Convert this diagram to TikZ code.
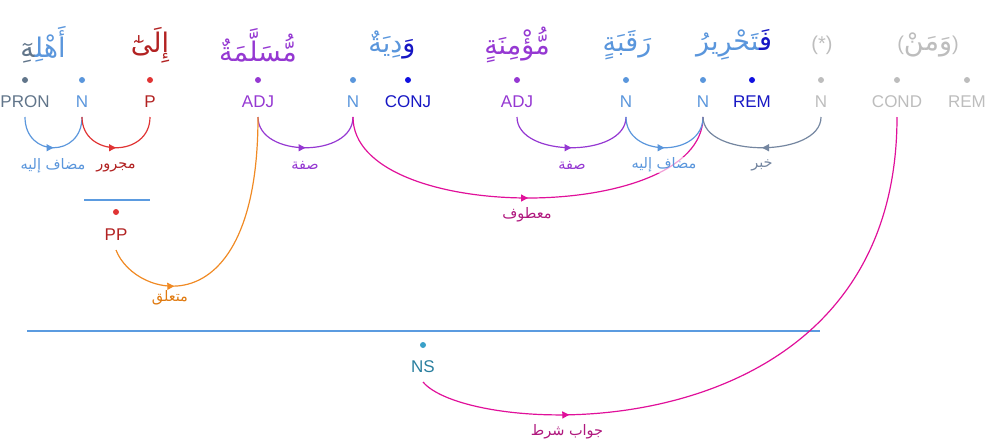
\documentclass[tikz,border=0pt]{standalone}
\usepackage{fontspec}
\setmainfont{Liberation Sans}
\newfontfamily\arabicfont[Script=Arabic]{DejaVu Sans}
\TeXXeTstate=1
\usetikzlibrary{arrows.meta,decorations.markings}
\newcommand{\zj}{\char"200D\relax}
\definecolor{cN}{HTML}{5A96DC}
\definecolor{cPron}{HTML}{61758A}
\definecolor{cPdot}{HTML}{E03434}
\definecolor{cPtext}{HTML}{B22222}
\definecolor{cAdj}{HTML}{9538D2}
\definecolor{cConj}{HTML}{1717C4}
\definecolor{cConjDot}{HTML}{1010E0}
\definecolor{cGray}{HTML}{BDBDBD}
\definecolor{cMag}{HTML}{E0109A}
\definecolor{cMagText}{HTML}{B0187E}
\definecolor{cOrange}{HTML}{F08A24}
\definecolor{cOrangeText}{HTML}{E07A10}
\definecolor{cNSdot}{HTML}{3AA0C8}
\definecolor{cNStext}{HTML}{2A7F9F}
\definecolor{cPhrase}{HTML}{5B9BE0}
\definecolor{cSlate}{HTML}{7486A0}
\tikzset{
  tag/.style={font=\fontsize{17}{20}\selectfont, inner sep=0pt, text height=12.5pt, text depth=0pt, outer ysep=9.5pt, anchor=base},
  wdot/.style={circle, inner sep=0pt, minimum size=6pt, draw=none},
  word/.style={font=\arabicfont\fontsize{27}{32}\selectfont, inner sep=0pt},
  rel/.style={font=\arabicfont\fontsize{14.5}{17}\selectfont, inner sep=1pt, fill=white, fill opacity=0.6, text opacity=1},
  arc/.style={line width=1.2pt, color=#1},
  midarrow/.style={postaction={decorate}, decoration={markings, mark=at position #1 with {\arrow{Triangle[length=7pt,width=7pt]}}}},
  phrase/.style={line width=1.2pt, cPhrase},
}
\begin{document}
\begin{tikzpicture}[x=1pt, y=-1pt]
\useasboundingbox (0,0) rectangle (987,442);
% words (multi-coloured words are written in visual left-to-right order)
\node[word] (w1) at (43,45) {{\color{cPron}\zj هِٓ}{\color{cN}أَهْلِ\zj}};
\node[word, text=cPtext] (w2) at (150,45) {إِلَىٰٓ};
\node[word, text=cAdj] (w3) at (258,45) {مُّسَلَّمَةٌ};
\node[word] (w4) at (392,45) {{\color{cN}دِيَةٌ}{\color{cConj}وَ}};
\node[word, text=cAdj] (w5) at (517,45) {مُّؤْمِنَةٍ};
\node[word, text=cN] (w6) at (627,45) {رَقَبَةٍ};
\node[word] (w7) at (734,45) {{\color{cN}\zj تَحْرِيرُ}{\color{cConj}فَ\zj}};
\node[word, text=cGray, font=\fontsize{20}{24}\selectfont] (w8) at (822,45) {(*)};
\node[word, text=cGray] (w9) at (928,45) {{\fontsize{20}{24}\selectfont\rmfamily(}وَمَنْ{\fontsize{20}{24}\selectfont\rmfamily)}};
% dots
\node[wdot, fill=cPron] (d1) at (25,80) {};
\node[wdot, fill=cN] (d2) at (82,80) {};
\node[wdot, fill=cPdot] (d3) at (150,80) {};
\node[wdot, fill=cAdj] (d4) at (258,80) {};
\node[wdot, fill=cN] (d5) at (353,80) {};
\node[wdot, fill=cConjDot] (d6) at (408,80) {};
\node[wdot, fill=cAdj] (d7) at (517,80) {};
\node[wdot, fill=cN] (d8) at (626,80) {};
\node[wdot, fill=cN] (d9) at (703,80) {};
\node[wdot, fill=cConjDot] (d10) at (752,80) {};
\node[wdot, fill=cGray] (d11) at (821,80) {};
\node[wdot, fill=cGray] (d12) at (897,80) {};
\node[wdot, fill=cGray] (d13) at (967,80) {};
% tags
\node[tag, text=cPron] (pron) at (25,107.5) {PRON};
\node[tag, text=cN] (n1) at (82,107.5) {N};
\node[tag, text=cPtext] (p) at (150,107.5) {P};
\node[tag, text=cAdj] (adj1) at (258,107.5) {ADJ};
\node[tag, text=cN] (n2) at (353,107.5) {N};
\node[tag, text=cConj] (conj) at (408,107.5) {CONJ};
\node[tag, text=cAdj] (adj2) at (517,107.5) {ADJ};
\node[tag, text=cN] (n3) at (626,107.5) {N};
\node[tag, text=cN] (n4) at (703,107.5) {N};
\node[tag, text=cConj] (rem1) at (752,107.5) {REM};
\node[tag, text=cGray] (n5) at (821,107.5) {N};
\node[tag, text=cGray] (cond) at (897,107.5) {COND};
\node[tag, text=cGray] (rem2) at (967,107.5) {REM};
% phrase PP
\draw[phrase] (84,200) -- (150,200);
\node[wdot, fill=cPdot] (dpp) at (116,212) {};
\node[tag, text=cPtext] (pp) at (116,240.5) {PP};
% phrase NS
\draw[phrase] (27,331) -- (820,331);
\node[wdot, fill=cNSdot] (dns) at (423,345) {};
\node[tag, text=cNStext] (ns) at (423,372.5) {NS};
% arcs
\draw[arc=cN, midarrow=0.5] (pron.south) .. controls +(0,41) and +(0,41) .. (n1.south);
\draw[arc=cPdot, midarrow=0.5] (n1.south) .. controls +(0,41) and +(0,41) .. (p.south);
\draw[arc=cAdj, midarrow=0.5] (adj1.south) .. controls +(0,41) and +(0,41) .. (n2.south);
\draw[arc=cMag, midarrow=0.5] (n2.south) .. controls +(0,108) and +(0,108) .. (n4.south);
\draw[arc=cAdj, midarrow=0.5] (adj2.south) .. controls +(0,41) and +(0,41) .. (n3.south);
\draw[arc=cN, midarrow=0.5] (n3.south) .. controls +(0,41) and +(0,41) .. (n4.south);
\draw[arc=cSlate, midarrow=0.5] (n5.south) .. controls +(0,41) and +(0,41) .. (n4.south);
\draw[arc=cOrange, midarrow=0.26] (pp.south) .. controls +(19,50) and +(0,213) .. (adj1.south);
\draw[arc=cMag, midarrow=0.235] (ns.south) .. controls +(47,57) and +(0,343) .. (cond.south);
% relation labels
\node[rel, text=cN] (l1) at (53,166) {\beginR مضاف إليه\endR};
\node[rel, text=cPtext] (l2) at (116,167) {مجرور};
\node[rel, text=cAdj] (l3) at (305,165) {صفة};
\node[rel, text=cMagText] (l4) at (527,215) {معطوف};
\node[rel, text=cAdj] (l5) at (572,165) {صفة};
\node[rel, text=cN] (l6) at (664,165) {\beginR مضاف إليه\endR};
\node[rel, text=cSlate] (l7) at (762,165) {خبر};
\node[rel, text=cOrangeText] (l8) at (170,298) {متعلق};
\node[rel, text=cMagText] (l9) at (567,432) {\beginR جواب شرط\endR};
\end{tikzpicture}
\end{document}
